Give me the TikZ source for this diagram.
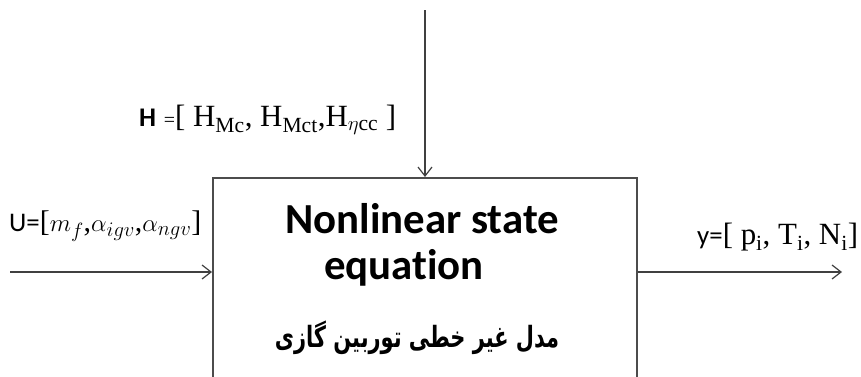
\documentclass[tikz,border=0pt]{standalone}
\usepackage{fontspec}
\usepackage{amsmath}
\usepackage{graphicx}
\usetikzlibrary{arrows.meta}
\setmainfont{Liberation Serif}
\newfontfamily\labsans{Carlito}
\newfontfamily\titlesans[Ligatures=NoCommon]{Carlito}
\newfontfamily\arabicfont[Script=Arabic]{DejaVu Sans}
\TeXXeTstate=1
\tikzset{
  conn/.style={draw=black!75, line width=1.3bp, -{Straight Barb[length=9bp,width=14bp,line width=1.2bp]}},
  blockbox/.style={draw=black!70, line width=1.5bp, minimum width=424bp, minimum height=230bp, inner sep=0pt},
  lab/.style={inner sep=0pt, text=black},
}
\begin{document}
\begin{tikzpicture}[x=1bp,y=-1bp]
\clip (0,0) rectangle (861,376);
\fill[white] (0,0) rectangle (861,376);
\node[blockbox, anchor=north west] (box) at (212,177) {};
\node[lab, font=\titlesans\bfseries\fontsize{43}{46}\selectfont] (t1) at (422,219) {Nonlinear state};
\node[lab, font=\titlesans\bfseries\fontsize{43}{46}\selectfont] (t2) at (404,268) {equation};
\node[lab, font=\arabicfont\bfseries\fontsize{21}{26}\selectfont] (t3) at (417,338) {\scalebox{1}[1.4]{\beginR مدل غیر خطی توربین گازی\endR}};
\coordinate (topin) at (425,10);
\coordinate (uin) at (10,272);
\coordinate (yout) at (842,272);
\draw[conn] (topin) -- (topin |- box.north);
\draw[conn] (uin) -- (uin -| box.west);
\draw[conn] (box.east |- yout) -- (yout);
\node[lab, anchor=west, font=\fontsize{31}{33}\selectfont] (hlab) at (139,120) {{\labsans\bfseries\fontsize{27}{29}\selectfont H} {\fontsize{20}{22}\selectfont =}[ H$_{\text{Mc}}$, H$_{\text{Mct}}$,H$_{\eta\text{cc}}$ ]};
\node[lab, anchor=west, font=\fontsize{30}{32}\selectfont] (ulab) at (9,226) {{\labsans\fontsize{27}{29}\selectfont U=}[$m_f$,$\alpha_{igv}$,$\alpha_{ngv}$]};
\node[lab, anchor=west, font=\fontsize{31}{33}\selectfont] (ylab) at (697,237) {{\labsans\fontsize{27}{29}\selectfont y=}[ p$_{\text{i}}$, T$_{\text{i}}$,\ N$_{\text{i}}$]};
\end{tikzpicture}
\end{document}
